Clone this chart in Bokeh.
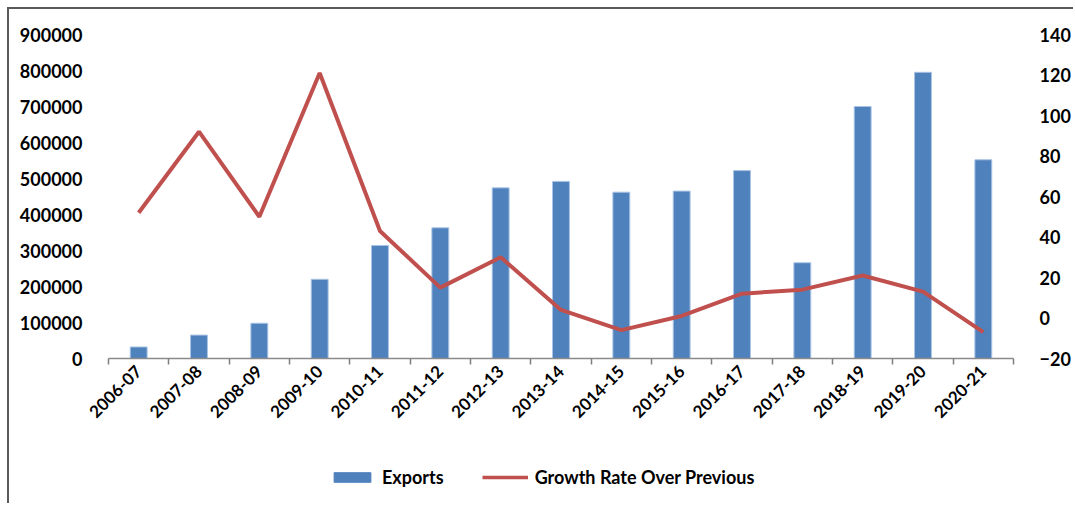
import math
from bokeh.plotting import figure
from bokeh.layouts import column
from bokeh.models import Range1d, LinearAxis, FixedTicker, Legend, LegendItem, BasicTickFormatter
from bokeh.embed import file_html
from bokeh.resources import INLINE

categories = ["2006-07", "2007-08", "2008-09", "2009-10", "2010-11", "2011-12", "2012-13",
              "2013-14", "2014-15", "2015-16", "2016-17", "2017-18", "2018-19", "2019-20", "2020-21"]
exports = [32000, 65000, 98000, 220000, 314000, 363000, 474000, 492000, 462000, 465000,
           522000, 266000, 700000, 795000, 552000]
growth = [52, 92, 50, 121, 43, 15, 30, 4, -6, 1, 12, 14, 21, 13, -7]
left_ticks = [0, 100000, 200000, 300000, 400000, 500000, 600000, 700000, 800000, 900000]
right_ticks = [-20, 0, 20, 40, 60, 80, 100, 120, 140]
series_names = ["Exports", "Growth Rate Over Previous"]

FONT = "Lato"
BLUE = "#4F81BD"
RED = "#C0504D"
n = len(categories)
xs = list(range(n))

p = figure(width=1064, height=434, output_backend="svg", toolbar_location=None,
           x_range=Range1d(-0.5, n - 0.5), y_range=Range1d(left_ticks[0], left_ticks[-1]),
           min_border_left=99, min_border_right=53, min_border_top=25, min_border_bottom=85)
p.extra_y_ranges = {"g": Range1d(right_ticks[0], right_ticks[-1])}

p.vbar(x=xs, top=exports, bottom=0, width=0.28, fill_color=BLUE,
       line_color="#A9C4E4", line_width=1)
p.line(x=xs, y=growth, y_range_name="g", line_color=RED, line_width=4)

p.xgrid.visible = False
p.ygrid.visible = False
p.outline_line_color = None

xa = p.xaxis[0]
xa.ticker = FixedTicker(ticks=xs, minor_ticks=[i - 0.5 for i in range(n + 1)])
xa.major_label_overrides = {i: c for i, c in enumerate(categories)}
xa.major_label_orientation = math.pi / 4
xa.major_tick_line_color = None
xa.minor_tick_in = 0
xa.minor_tick_out = 6
xa.minor_tick_line_color = "#7f7f7f"
xa.minor_tick_line_width = 1.5
xa.axis_line_color = "#8a8a8a"
xa.axis_line_width = 1.5
xa.major_label_text_font = FONT
xa.major_label_text_font_style = "bold"
xa.major_label_text_font_size = "17px"
xa.major_label_text_color = "black"
xa.major_label_standoff = 4

ya = p.yaxis[0]
ya.ticker = FixedTicker(ticks=left_ticks)
ya.formatter = BasicTickFormatter(use_scientific=False)

ra = LinearAxis(y_range_name="g", ticker=FixedTicker(ticks=right_ticks))
p.add_layout(ra, "right")

for a in (ya, ra):
    a.axis_line_color = None
    a.major_tick_line_color = None
    a.minor_tick_line_color = None
    a.major_label_standoff = 20
    a.major_label_text_font = FONT
    a.major_label_text_font_style = "bold"
    a.major_label_text_font_size = "18px"
    a.major_label_text_color = "black"

# legend strip below the chart (its renderers are hidden; only the legend shows)
q = figure(width=1064, height=60, output_backend="svg", toolbar_location=None,
           x_range=Range1d(n + 10, n + 11), y_range=Range1d(0, 1),
           x_axis_location=None, y_axis_location=None,
           min_border_left=0, min_border_right=0, min_border_top=0, min_border_bottom=0)
q.xgrid.visible = False
q.ygrid.visible = False
q.outline_line_color = None
lb = q.vbar(x=xs, top=exports, width=0.28, fill_color=BLUE, line_color=BLUE)
ll = q.line(x=xs, y=growth, line_color=RED, line_width=3.5)
lb.visible = False
ll.visible = False

legend = Legend(items=[LegendItem(label=series_names[0], renderers=[lb]),
                       LegendItem(label=series_names[1], renderers=[ll])],
                orientation="horizontal", location=(221, 15))
legend.padding = 0
legend.margin = 0
legend.border_line_color = None
legend.background_fill_alpha = 0
legend.inactive_fill_alpha = 0
legend.glyph_width = 46
legend.glyph_height = 12
legend.label_height = 20
legend.label_standoff = 7
legend.spacing = 38
legend.label_text_font = FONT
legend.label_text_font_style = "bold"
legend.label_text_font_size = "18px"
legend.label_text_color = "black"
q.add_layout(legend, "center")

layout = column(p, q, spacing=0)
layout.styles = {"margin-left": "7px", "margin-top": "7px",
                 "border-left": "2px solid #5a5a5a", "border-top": "2px solid #5a5a5a"}

open("out.html", "w").write(file_html(layout, INLINE))
